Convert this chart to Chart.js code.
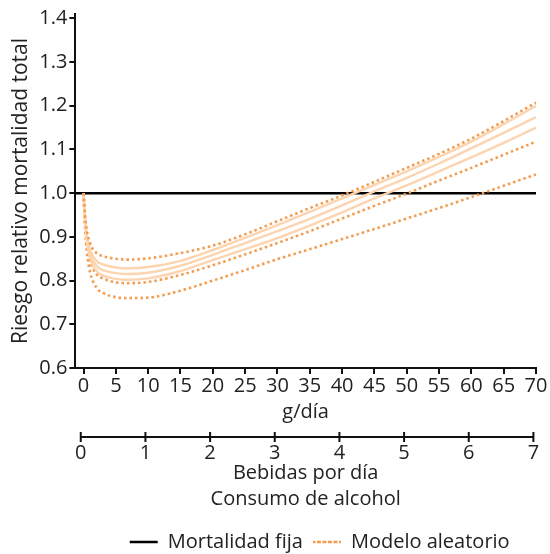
<!DOCTYPE html>
<html>
<head>
<meta charset="utf-8">
<script src="https://cdn.jsdelivr.net/npm/chart.js@4/dist/chart.umd.min.js"></script>
<style>
  html, body { margin: 0; padding: 0; background: #fff; }
  #wrap { width: 550px; height: 554px; }
</style>
</head>
<body>
<div id="wrap"><canvas id="alcoholChart"></canvas></div>
<script>
// Alcohol consumption vs relative risk of total mortality
const doseX = [0, 0.25, 0.5, 1, 2, 3, 5, 7, 10, 15, 20, 25, 30, 35, 40, 45, 50, 55, 60, 65, 70];
const upperDotted = [1.0, 0.947, 0.916, 0.886, 0.863, 0.856, 0.850, 0.848, 0.851, 0.863, 0.880, 0.906, 0.936, 0.966, 0.995, 1.026, 1.058, 1.090, 1.125, 1.165, 1.207];
const solidA = [1.0, 0.940, 0.905, 0.871, 0.845, 0.837, 0.830, 0.828, 0.831, 0.845, 0.870, 0.898, 0.927, 0.957, 0.988, 1.019, 1.050, 1.083, 1.118, 1.158, 1.200];
const solidB = [1.0, 0.935, 0.898, 0.861, 0.834, 0.824, 0.817, 0.815, 0.818, 0.834, 0.859, 0.886, 0.913, 0.941, 0.972, 1.004, 1.035, 1.068, 1.103, 1.138, 1.174];
const solidC = [1.0, 0.931, 0.891, 0.852, 0.822, 0.812, 0.804, 0.802, 0.805, 0.822, 0.847, 0.872, 0.897, 0.926, 0.956, 0.988, 1.018, 1.050, 1.082, 1.115, 1.150];
const middleDotted = [1.0, 0.928, 0.887, 0.846, 0.815, 0.805, 0.796, 0.794, 0.797, 0.813, 0.835, 0.860, 0.886, 0.913, 0.942, 0.971, 0.999, 1.029, 1.058, 1.088, 1.118];
const lowerDotted = [1.0, 0.916, 0.868, 0.820, 0.784, 0.772, 0.762, 0.760, 0.761, 0.777, 0.800, 0.824, 0.849, 0.872, 0.895, 0.918, 0.942, 0.966, 0.991, 1.017, 1.043];

// fixed-effect reference line
const fixedX = [-1.3, 70];
const fixedRR = [1.0, 1.0];

const yTicks = [0.6, 0.7, 0.8, 0.9, 1.0, 1.1, 1.2, 1.3, 1.4];
const gramTicks = [0, 5, 10, 15, 20, 25, 30, 35, 40, 45, 50, 55, 60, 65, 70];
const drinkTicks = [0, 1, 2, 3, 4, 5, 6, 7];

const FONT = "'Open Sans', sans-serif";
const SIZE = 20;
const dotColor = "#f49c4e";
const solidColor = "#fdd4b0";

function pts(xs, ys) {
  return xs.map((x, i) => ({ x: x, y: ys[i] }));
}

function curve(label, ys, dotted) {
  return {
    label: label,
    data: pts(doseX, ys),
    borderColor: dotted ? dotColor : solidColor,
    backgroundColor: dotted ? dotColor : solidColor,
    borderWidth: dotted ? 2.6 : 2.4,
    borderDash: dotted ? [2.5, 3] : [],
    pointRadius: 0,
    cubicInterpolationMode: "monotone",
    fill: false
  };
}

// second x axis (drinks per day): line with ticks crossing it
const drinkAxisLine = {
  id: "drinkAxisLine",
  afterLayout(chart) {
    // legend sits a bit right of the plot centre
    chart.legend.left += 14;
    chart.legend.right += 14;
  },
  afterDraw(chart) {
    const s = chart.scales.x2;
    const ctx = chart.ctx;
    const y = s.top + 5;
    ctx.save();
    ctx.strokeStyle = "#111";
    ctx.lineWidth = 2;
    ctx.beginPath();
    ctx.moveTo(s.getPixelForValue(drinkTicks[0]), y);
    ctx.lineTo(s.getPixelForValue(drinkTicks[drinkTicks.length - 1]), y);
    drinkTicks.forEach(v => {
      const px = s.getPixelForValue(v);
      ctx.moveTo(px, y - 5);
      ctx.lineTo(px, y + 5);
    });
    ctx.stroke();
    ctx.restore();
  }
};

const ctx = document.getElementById("alcoholChart").getContext("2d");
new Chart(ctx, {
  type: "line",
  data: {
    datasets: [
      {
        label: "Mortalidad fija",
        data: pts(fixedX, fixedRR),
        borderColor: "#000",
        backgroundColor: "#000",
        borderWidth: 2.4,
        pointRadius: 0,
        order: 1
      },
      Object.assign(curve("Modelo aleatorio", upperDotted, true), { order: 0 }),
      curve("s1", solidA, false),
      curve("s2", solidB, false),
      curve("s3", solidC, false),
      curve("d2", middleDotted, true),
      curve("d3", lowerDotted, true)
    ]
  },
  options: {
    responsive: true,
    maintainAspectRatio: false,
    animation: false,
    layout: { padding: { left: 8, right: 14, top: 8, bottom: -8 } },
    plugins: {
      tooltip: { enabled: false },
      legend: {
        position: "bottom",
        fullSize: false,
        labels: {
          filter: item => item.datasetIndex < 2,
          sort: (a, b) => a.datasetIndex - b.datasetIndex,
          boxWidth: 28,
          boxHeight: 0,
          padding: 10,
          color: "#222",
          font: { family: FONT, size: SIZE }
        }
      }
    },
    scales: {
      x: {
        type: "linear",
        min: -1.27,
        max: 70,
        afterBuildTicks: s => { s.ticks = gramTicks.map(v => ({ value: v })); },
        grid: { drawOnChartArea: false, color: "#111", lineWidth: 2, tickLength: 6 },
        border: { color: "#111", width: 2 },
        ticks: { color: "#222", padding: 0, maxRotation: 0, autoSkip: false, font: { family: FONT, size: SIZE } },
        title: { display: true, text: "g/día", color: "#222", padding: { top: 2, bottom: 8 }, font: { family: FONT, size: SIZE } }
      },
      x2: {
        type: "linear",
        position: "bottom",
        weight: 1,
        min: -0.084,
        max: 7.04,
        afterBuildTicks: s => { s.ticks = drinkTicks.map(v => ({ value: v })); },
        grid: { display: false, drawTicks: false },
        border: { display: false },
        ticks: { color: "#222", padding: 9, maxRotation: 0, autoSkip: false, font: { family: FONT, size: SIZE } },
        title: {
          display: true,
          text: ["Bebidas por día", "Consumo de alcohol"],
          color: "#222",
          padding: { top: -14, bottom: 10 },
          font: { family: FONT, size: SIZE, lineHeight: 1.3 }
        }
      },
      y: {
        min: 0.6,
        max: 1.41,
        afterBuildTicks: s => { s.ticks = yTicks.map(v => ({ value: v })); },
        grid: { drawOnChartArea: false, color: "#111", lineWidth: 2, tickLength: 6 },
        border: { color: "#111", width: 2 },
        ticks: { color: "#222", padding: 2, callback: v => v.toFixed(1), font: { family: FONT, size: SIZE } },
        title: { display: true, text: "Riesgo relativo mortalidad total", color: "#222", padding: { top: 0, bottom: 4 }, font: { family: FONT, size: 21 } }
      }
    }
  },
  plugins: [drinkAxisLine]
});
</script>
</body>
</html>
